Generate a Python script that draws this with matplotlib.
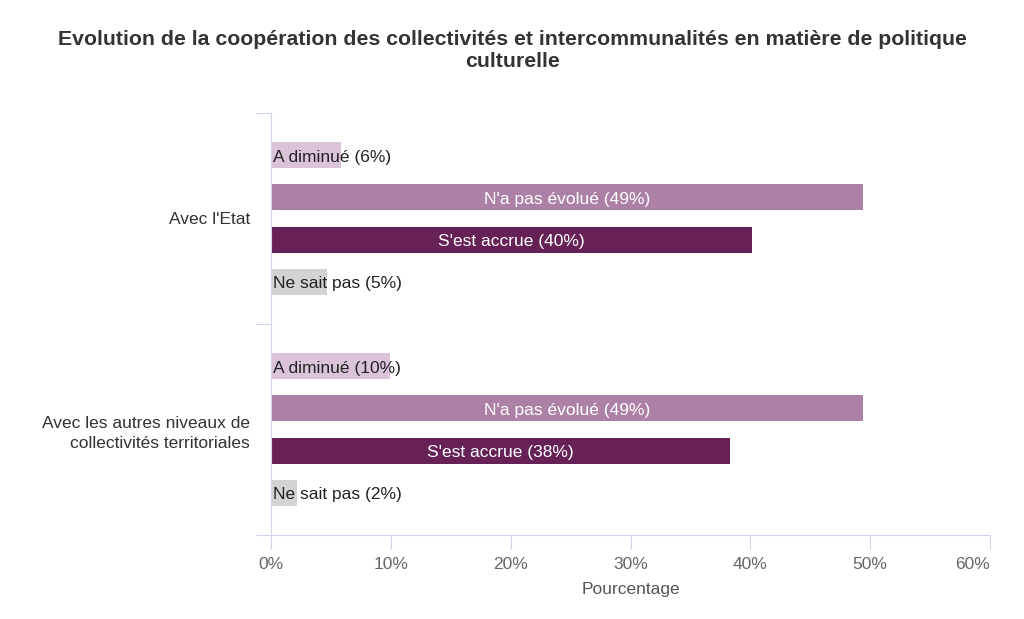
import matplotlib.pyplot as plt

plt.rcParams['font.family'] = ['Liberation Sans', 'DejaVu Sans']

groups = ["Avec l'Etat", "Avec les autres niveaux de\ncollectivités territoriales"]
series = ["A diminué", "N'a pas évolué", "S'est accrue", "Ne sait pas"]
colors = ['#dbc3da', '#ad80a6', '#662257', '#d3d3d3']
values = [
    [5.8, 49.4, 40.1, 4.7],
    [9.9, 49.4, 38.3, 2.2],
]
xticks = [0, 10, 20, 30, 40, 50, 60]

fig = plt.figure(figsize=(10.24, 6.19), dpi=100)
ax = fig.add_axes([271/1024, 1-535/619, (990-271)/1024, (535-113)/619])

step = 0.2
for g, grp in enumerate(values):
    for i, v in enumerate(grp):
        y = g + (i - 1.5) * step
        ax.barh(y, v, height=0.123, color=colors[i])
        txt = f"{series[i]} ({round(v)}%)"
        if v > 20:
            ax.text(v / 2, y + 0.01, txt, ha='center', va='center', color='white', fontsize=12.5)
        else:
            ax.text(0.15, y + 0.01, txt, ha='left', va='center', color='#222222', fontsize=12.5)

ax.set_xlim(0, 60)
ax.set_ylim(1.5, -0.5)
ax.set_xticks(xticks)
ax.set_xticklabels([f"{t}%" for t in xticks])
ax.get_xticklabels()[-1].set_ha('right')
ax.set_yticks([-0.5, 0.5, 1.5])
ax.set_yticklabels([])
ax.set_yticks([0, 1], minor=True)
ax.set_yticklabels(groups, minor=True, ha='right', multialignment='right', linespacing=1.45)

axis_col = '#ccd6eb'
for s in ['top', 'right']:
    ax.spines[s].set_visible(False)
for s in ['left', 'bottom']:
    ax.spines[s].set_color(axis_col)
ax.tick_params(axis='y', which='major', length=11, color=axis_col)
ax.tick_params(axis='y', which='minor', length=0, pad=15, labelsize=12.5, labelcolor='#333333')
ax.tick_params(axis='x', length=10, color=axis_col, labelsize=12.5, labelcolor='#666666', pad=6)
ax.set_xlabel('Pourcentage', fontsize=12.5, color='#555555', labelpad=7)

fig.suptitle("Evolution de la coopération des collectivités et intercommunalités en matière de politique\nculturelle",
             y=0.952, fontsize=15.3, fontweight='bold', color='#333333', linespacing=1.2)

fig.savefig('out.png', dpi=100, facecolor='white')
